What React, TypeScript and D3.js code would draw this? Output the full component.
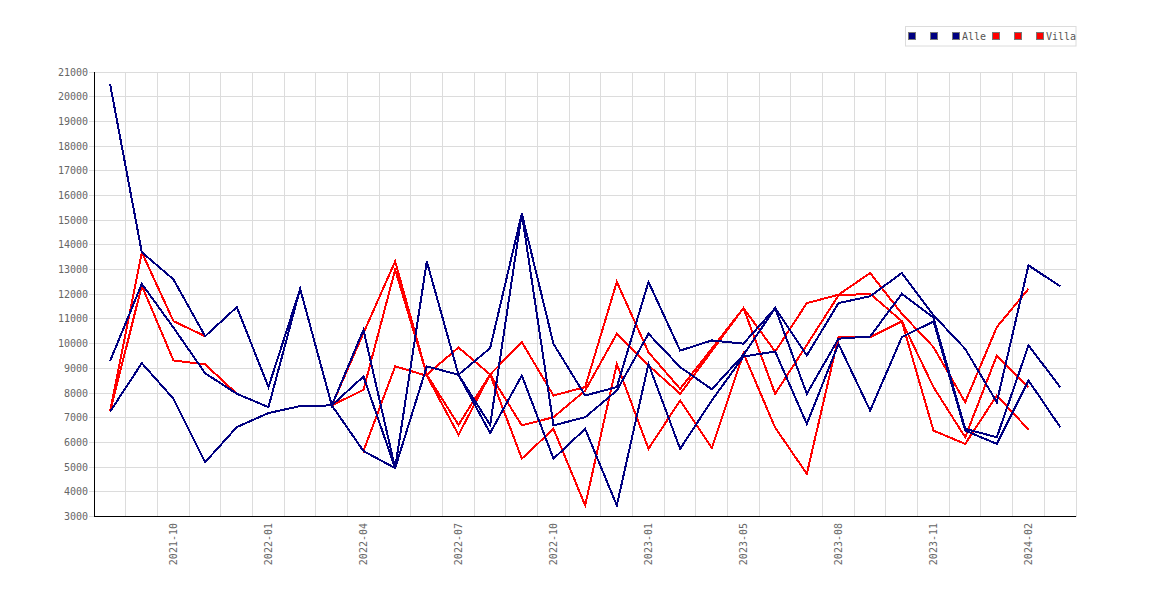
import React from 'react';
import * as d3 from 'd3';

// months on the x axis (one value per month, April 2023 has no data)
const months = [
  '2021-08', '2021-09', '2021-10', '2021-11', '2021-12',
  '2022-01', '2022-02', '2022-03', '2022-04', '2022-05', '2022-06',
  '2022-07', '2022-08', '2022-09', '2022-10', '2022-11', '2022-12',
  '2023-01', '2023-02', '2023-03', '2023-05', '2023-06', '2023-07',
  '2023-08', '2023-09', '2023-10', '2023-11', '2023-12',
  '2024-01', '2024-02', '2024-03',
];

const alleHigh = [20500, 13700, 12600, 10300, 11480, 8240, 12220, 7500, 10560, 4960, 13330, 8740, 9820, 15270, 9990, 7900, 8240, 12500, 9720, 10130, 10000, 11440, 9520, 11640, 11920, 12860, 11150, 9790, 7630, 13170, 12320];
const alleMid = [9300, 12420, 10650, 8800, 7970, 7430, 12220, 7500, 8670, 4960, 13330, 8740, 6710, 15270, 6690, 7020, 8100, 10400, 9050, 8150, 9550, 11440, 7970, 10200, 10290, 12020, 11050, 6550, 6210, 9930, 8240];
const alleLow = [7250, 9210, 7770, 5200, 6620, 7190, 7470, 7500, 5650, 4960, 9080, 8740, 6380, 8710, 5340, 6550, 3450, 9180, 5740, 7700, 9480, 9680, 6750, 9990, 7290, 10260, 10900, 6480, 5940, 8510, 6620];

const villaHigh = [7250, 13700, 10910, 10300, 11480, 8240, 12220, 7500, 10430, 13330, 8740, 9845, 8750, 10060, 7900, 8240, 12500, 9650, 8170, 9800, 11440, 9680, 11640, 11980, 12860, 11210, 9860, 7630, 10670, 12220, null];
const villaMid = [7250, 12350, 9320, 9160, 7970, 7430, 12220, 7500, 8130, 12990, 8740, 6710, 8750, 6690, 7020, 8100, 10400, 9120, 7970, 9700, 11440, 7970, 9950, 11950, 12020, 10910, 8240, 6210, 9520, 8240, null];
const villaLow = [7250, 9210, 7770, 5200, 6620, 7190, 7470, 7500, 5650, 9080, 8700, 6310, 8750, 5340, 6550, 3450, 9180, 5740, 7700, 5780, 9600, 6600, 4730, 10260, 10260, 10900, 6480, 5940, 7900, 6520, null];

const legendLabels = ['', '', 'Alle', '', '', 'Villa'];
const yTicks = d3.range(3000, 21001, 1000);

const NAVY = '#000080';
const RED = '#ff0000';
const FONT = '"DejaVu Sans Mono", monospace';

const W = 1170;
const H = 600;
const plot = { left: 94.3, right: 1076, top: 72, bottom: 516.5 };

const App: React.FC = () => {
  const x = d3.scaleBand<string>().domain(months).range([plot.left, plot.right]);
  const y = d3.scaleLinear().domain([3000, 21000]).range([plot.bottom, plot.top]);
  const cx = (m: string) => (x(m) as number) + x.bandwidth() / 2;

  const line = d3.line<number | null>()
    .defined(d => d != null)
    .x((_, i) => cx(months[i]))
    .y(d => y(d as number));

  const series = [
    { values: alleHigh, color: NAVY },
    { values: alleMid, color: NAVY },
    { values: alleLow, color: NAVY },
    { values: villaHigh, color: RED },
    { values: villaMid, color: RED },
    { values: villaLow, color: RED },
  ];
  // Villa underneath, Alle on top
  const drawOrder = [...series.slice(3), ...series.slice(0, 3)];

  // legend layout
  let lx = 912;
  const legend = legendLabels.map((label, i) => {
    const item = { cx: lx, label, color: series[i].color };
    lx += 22 + Math.max(0, label.length * 6 - 6);
    return item;
  });

  const bandEdges = months.map(m => x(m) as number).concat([plot.right]);

  return (
    <div>
      <style>{'body{margin:0}'}</style>
      <svg width={W} height={H} style={{ display: 'block', background: '#fff' }}>
        {/* grid */}
        <g stroke="#dcdcdc" strokeWidth={1} shapeRendering="crispEdges">
          {yTicks.map(t => (
            <line key={'h' + t} x1={plot.left - 5} x2={plot.right} y1={y(t)} y2={y(t)} />
          ))}
          {bandEdges.slice(1).map((e, i) => (
            <line key={'v' + i} x1={e} x2={e} y1={plot.top} y2={plot.bottom} />
          ))}
        </g>

        {/* y labels */}
        <g fontFamily={FONT} fontSize={10} fill="#666" textAnchor="end">
          {yTicks.map(t => (
            <text key={'yl' + t} x={88} y={y(t)} dy="0.35em">{t}</text>
          ))}
        </g>

        {/* x labels, every third month */}
        <g fontFamily={FONT} fontSize={10} fill="#666" textAnchor="end">
          {months.map((m, i) => (i % 3 === 2 ? (
            <text key={'xl' + m} transform={`translate(${cx(m)},523) rotate(-90)`} dy="0.35em">{m}</text>
          ) : null))}
        </g>

        {/* series */}
        <g fill="none" strokeWidth={2} strokeLinejoin="miter" shapeRendering="crispEdges">
          {drawOrder.map((s, i) => (
            <path key={'s' + i} d={line(s.values) || ''} stroke={s.color} />
          ))}
        </g>

        {/* axes */}
        <g stroke="#000" strokeWidth={1.2} shapeRendering="crispEdges">
          <line x1={plot.left} x2={plot.left} y1={plot.top} y2={plot.bottom} />
          <line x1={plot.left} x2={plot.right} y1={plot.bottom} y2={plot.bottom} />
        </g>

        {/* legend */}
        <rect x={905.5} y={26.5} width={170.5} height={19.5} fill="#fff" stroke="#dcdcdc" />
        {legend.map((d, i) => (
          <g key={'lg' + i}>
            <rect x={d.cx - 3.5} y={32.5} width={7} height={7} fill={d.color} stroke="#777" strokeWidth={1} shapeRendering="crispEdges" />
            {d.label && (
              <text x={d.cx + 6} y={36} dy="0.35em" fontFamily={FONT} fontSize={10} fill="#555">{d.label}</text>
            )}
          </g>
        ))}
      </svg>
    </div>
  );
};

export default App;
